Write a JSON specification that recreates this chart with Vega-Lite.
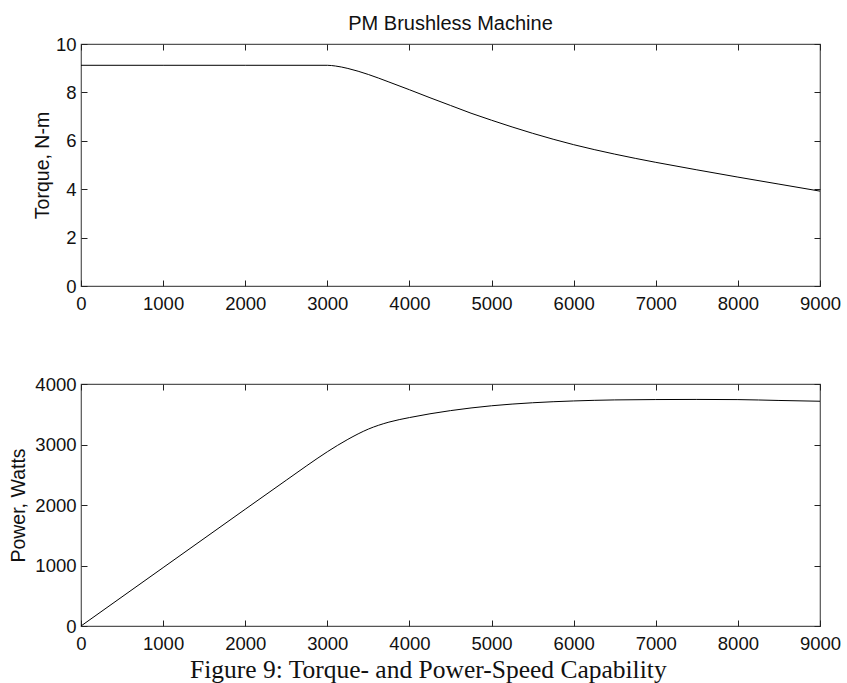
{
  "$schema": "https://vega.github.io/schema/vega-lite/v6.json",
  "background": "white",
  "padding": {"left": 7, "top": 13, "right": 5, "bottom": 5},
  "spacing": 60,
  "config": {
    "font": "Liberation Sans",
    "view": {"stroke": "#555", "strokeWidth": 1.2},
    "axis": {
      "grid": false,
      "domain": false,
      "tickSize": -6,
      "tickColor": "#222",
      "tickWidth": 1,
      "labelFont": "Liberation Sans",
      "labelFontSize": 18.5,
      "labelColor": "#111",
      "labelPadding": 14.5,
      "labelFlush": false,
      "labelOverlap": false,
      "titleFont": "Liberation Sans",
      "titleFontSize": 19.5,
      "titleFontWeight": "normal",
      "titleColor": "#111"
    },
    "axisY": {"labelPadding": 11}
  },
  "title": {
    "text": "Figure 9: Torque- and Power-Speed Capability",
    "orient": "bottom",
    "anchor": "middle",
    "font": "Liberation Serif",
    "fontSize": 25.5,
    "fontWeight": "normal",
    "color": "#111",
    "offset": 4,
    "dx": 4
  },
  "datasets": {
    "torque": [
      {"speed": 0, "torque": 9.12},
      {"speed": 1000, "torque": 9.12},
      {"speed": 2000, "torque": 9.12},
      {"speed": 3000, "torque": 9.12},
      {"speed": 3100, "torque": 9.09},
      {"speed": 3250, "torque": 8.99},
      {"speed": 3500, "torque": 8.74},
      {"speed": 3750, "torque": 8.43},
      {"speed": 4000, "torque": 8.11},
      {"speed": 4250, "torque": 7.78},
      {"speed": 4500, "torque": 7.46},
      {"speed": 4750, "torque": 7.14},
      {"speed": 5000, "torque": 6.85},
      {"speed": 5500, "torque": 6.31},
      {"speed": 6000, "torque": 5.84},
      {"speed": 6500, "torque": 5.45},
      {"speed": 7000, "torque": 5.11},
      {"speed": 7500, "torque": 4.8},
      {"speed": 8000, "torque": 4.5},
      {"speed": 8500, "torque": 4.21},
      {"speed": 9000, "torque": 3.92}
    ],
    "power": [
      {"speed": 0, "power": 0},
      {"speed": 1000, "power": 965},
      {"speed": 2000, "power": 1930},
      {"speed": 2500, "power": 2410},
      {"speed": 2750, "power": 2650},
      {"speed": 3000, "power": 2880},
      {"speed": 3250, "power": 3085},
      {"speed": 3500, "power": 3255},
      {"speed": 3750, "power": 3370},
      {"speed": 4000, "power": 3445},
      {"speed": 4500, "power": 3560},
      {"speed": 5000, "power": 3640},
      {"speed": 5500, "power": 3690},
      {"speed": 6000, "power": 3720},
      {"speed": 6500, "power": 3737},
      {"speed": 7000, "power": 3743},
      {"speed": 7500, "power": 3745},
      {"speed": 8000, "power": 3742},
      {"speed": 8500, "power": 3728},
      {"speed": 9000, "power": 3715}
    ]
  },
  "vconcat": [
    {
      "title": {"text": "PM Brushless Machine", "font": "Liberation Sans", "fontSize": 20, "fontWeight": "normal", "color": "#111", "anchor": "middle", "offset": 1},
      "width": 739,
      "height": 242,
      "data": {"name": "torque"},
      "layer": [
        {
          "mark": {"type": "line", "color": "black", "strokeWidth": 1, "interpolate": "monotone"},
          "encoding": {
            "x": {"field": "speed", "type": "quantitative", "scale": {"domain": [0, 9000], "nice": false},
                  "axis": {"values": [0, 1000, 2000, 3000, 4000, 5000, 6000, 7000, 8000, 9000], "title": null, "format": "d"}},
            "y": {"field": "torque", "type": "quantitative", "scale": {"domain": [0, 10], "nice": false},
                  "axis": {"values": [0, 2, 4, 6, 8, 10], "title": "Torque, N-m", "titleX": -39, "titleY": 121, "titleAngle": -90, "titleAlign": "center", "titleBaseline": "middle"}}
          }
        },
        {
          "mark": {"type": "line", "opacity": 0},
          "encoding": {
            "x": {"field": "speed", "type": "quantitative", "axis": {"orient": "top", "values": [0, 1000, 2000, 3000, 4000, 5000, 6000, 7000, 8000, 9000], "labels": false, "title": null}},
            "y": {"field": "torque", "type": "quantitative", "axis": {"orient": "right", "values": [0, 2, 4, 6, 8, 10], "labels": false, "title": null}}
          }
        }
      ],
      "resolve": {"axis": {"x": "independent", "y": "independent"}}
    },
    {
      "width": 739,
      "height": 242,
      "data": {"name": "power"},
      "layer": [
        {
          "mark": {"type": "line", "color": "black", "strokeWidth": 1, "interpolate": "monotone"},
          "encoding": {
            "x": {"field": "speed", "type": "quantitative", "scale": {"domain": [0, 9000], "nice": false},
                  "axis": {"values": [0, 1000, 2000, 3000, 4000, 5000, 6000, 7000, 8000, 9000], "title": null, "format": "d"}},
            "y": {"field": "power", "type": "quantitative", "scale": {"domain": [0, 4000], "nice": false},
                  "axis": {"values": [0, 1000, 2000, 3000, 4000], "title": "Power, Watts", "format": "d", "titleX": -63, "titleY": 121, "titleAngle": -90, "titleAlign": "center", "titleBaseline": "middle"}}
          }
        },
        {
          "mark": {"type": "line", "opacity": 0},
          "encoding": {
            "x": {"field": "speed", "type": "quantitative", "axis": {"orient": "top", "values": [0, 1000, 2000, 3000, 4000, 5000, 6000, 7000, 8000, 9000], "labels": false, "title": null}},
            "y": {"field": "power", "type": "quantitative", "axis": {"orient": "right", "values": [0, 1000, 2000, 3000, 4000], "labels": false, "title": null}}
          }
        }
      ],
      "resolve": {"axis": {"x": "independent", "y": "independent"}}
    }
  ]
}
